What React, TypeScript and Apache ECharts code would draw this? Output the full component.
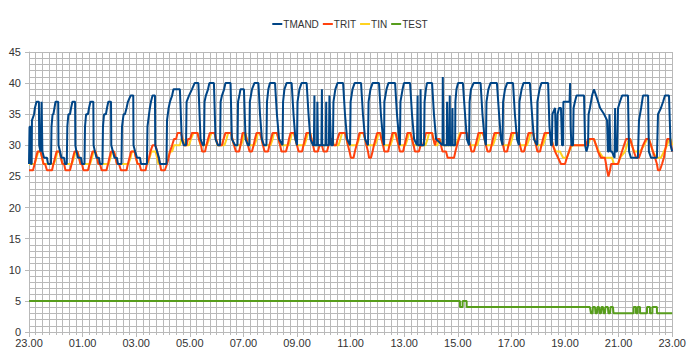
import React, { useEffect, useRef } from "react";
import * as echarts from "echarts";

// time in hours after 23:00, value in °C
const seriesNames = ["TMAND", "TRIT", "TIN", "TEST"];
const seriesColors = ["#004586", "#ff420e", "#ffd320", "#579d1c"];

const tmand: number[][] = [
  [0.00,27],[0.02,33],[0.06,33],[0.07,27],[0.10,27],[0.11,34],[0.19,35],[0.22,36],[0.28,37],[0.37,37],[0.38,30],[0.43,29],[0.47,37],[0.49,37],[0.50,29],[0.56,28],[0.67,28],[0.71,27],[0.82,27],
  [0.84,33],[0.88,35],[0.91,35],[0.95,36],[0.99,37],[1.09,37],[1.10,30],[1.16,29],[1.21,28],[1.31,28],[1.34,27],[1.41,27],
  [1.43,33],[1.47,35],[1.53,35],[1.57,36],[1.62,37],[1.72,37],[1.73,30],[1.77,29],[1.83,28],[1.94,28],[1.98,27],[2.07,27],
  [2.09,33],[2.13,35],[2.20,35],[2.24,36],[2.29,37],[2.40,37],[2.41,30],[2.46,29],[2.52,28],[2.61,28],[2.65,27],[2.74,27],
  [2.76,33],[2.80,35],[2.87,35],[2.91,36],[2.96,37],[3.06,37],[3.07,30],[3.13,29],[3.19,28],[3.28,28],[3.32,27],[3.45,27],
  [3.47,33],[3.53,35],[3.58,35],[3.64,36],[3.69,37],[3.79,38],[3.89,38],[3.90,30],[3.96,29],[4.03,28],[4.14,28],[4.18,27],[4.40,27],
  [4.42,33],[4.48,35],[4.51,36],[4.55,37],[4.61,38],[4.70,38],[4.71,30],[4.78,29],[4.85,28],[4.89,27],[5.13,27],
  [5.15,34],[5.21,36],[5.26,37],[5.34,38],[5.39,39],[5.63,39],[5.70,31],[5.78,30],[5.86,30],
  [5.88,37],[5.97,38],[6.08,39],[6.18,40],[6.32,40],[6.40,31],[6.49,30],[6.53,30],
  [6.55,37],[6.60,38],[6.68,39],[6.73,40],[6.90,40],[6.96,31],[7.05,30],[7.13,30],
  [7.15,37],[7.20,38],[7.28,39],[7.33,40],[7.52,40],[7.57,31],[7.69,30],[7.78,30],
  [7.80,37],[7.85,38],[7.89,39],[8.02,39],[8.08,31],[8.17,30],[8.22,30],
  [8.24,37],[8.28,38],[8.32,39],[8.41,40],[8.56,40],[8.62,35],[8.69,31],[8.77,30],[8.86,30],
  [8.88,37],[8.93,39],[8.99,40],[9.18,40],[9.25,35],[9.33,31],[9.46,30],
  [9.48,37],[9.53,39],[9.61,40],[9.80,40],[9.87,35],[9.94,31],[10.00,30],
  [10.02,37],[10.09,39],[10.17,40],[10.36,40],[10.43,35],[10.50,31],[10.60,30],
  [10.63,30],[10.65,38],[10.66,30],[10.75,30],[10.76,37],[10.78,30],[10.91,30],[10.93,39],[10.94,30],[11.07,30],[11.09,37],[11.10,30],[11.19,30],[11.21,38],[11.23,35],[11.27,30],
  [11.34,30],[11.36,37],[11.43,39],[11.51,40],[11.72,40],[11.79,35],[11.87,31],[11.98,30],
  [12.00,37],[12.07,39],[12.15,40],[12.39,40],[12.46,35],[12.54,31],[12.65,30],
  [12.67,37],[12.74,39],[12.82,40],[13.06,40],[13.13,35],[13.21,31],[13.25,30],
  [13.26,37],[13.34,39],[13.41,40],[13.66,40],[13.73,35],[13.81,31],[13.84,30],
  [13.86,37],[13.94,39],[13.99,40],[14.22,40],[14.29,35],[14.37,31],[14.48,30],
  [14.50,38],[14.51,30],[14.60,30],[14.61,39],[14.63,30],[14.74,30],
  [14.76,37],[14.81,39],[14.85,40],[15.04,40],[15.11,35],[15.19,31],[15.43,30],
  [15.44,41],[15.47,30],[15.59,30],[15.60,37],[15.62,30],[15.68,30],[15.70,38],[15.71,30],[15.78,30],[15.80,36],[15.81,30],[15.90,30],
  [15.91,37],[15.95,39],[16.01,40],[16.19,40],[16.27,35],[16.34,31],[16.42,30],
  [16.44,37],[16.49,39],[16.59,40],[16.85,40],[16.92,35],[17.00,31],[17.05,30],
  [17.07,37],[17.14,39],[17.22,40],[17.46,40],[17.54,35],[17.61,31],[17.67,30],
  [17.69,37],[17.76,39],[17.84,40],[18.06,40],[18.13,35],[18.21,31],[18.28,30],
  [18.30,37],[18.38,39],[18.45,40],[18.69,40],[18.77,35],[18.84,31],[18.96,30],
  [18.97,37],[19.05,39],[19.12,40],[19.37,40],
  [19.42,33],[19.48,30],[19.51,30],[19.53,35],[19.63,36],[19.66,30],[19.70,30],[19.72,35],[19.78,36],[19.85,36],[19.89,30],[19.93,30],[19.94,37],[20.17,37],[20.19,40],[20.21,33],[20.24,30],[20.30,30],[20.32,36],[20.37,37],[20.43,38],[20.71,38],[20.75,30],[20.80,29],[20.86,30],
  [20.88,35],[20.93,36],[21.01,38],[21.08,39],[21.16,38],[21.31,36],[21.46,35],[21.57,34],[21.60,29],[21.64,29],[21.66,35],[21.70,29],[21.75,29],[21.85,28],[21.87,36],[21.88,29],[21.94,29],
  [21.98,36],[22.05,37],[22.13,38],[22.35,38],[22.39,29],[22.46,28],[22.72,28],
  [22.76,34],[22.84,36],[22.91,38],[23.10,38],[23.13,29],[23.21,28],[23.43,28],
  [23.47,35],[23.58,36],[23.66,37],[23.73,38],[23.88,38],[23.94,30],[24.00,29]
];

const trit: number[][] = [
  [0.00,26],[0.15,26],[0.21,27],[0.26,28],[0.32,29],[0.43,29],[0.49,28],[0.54,27],[0.60,27],[0.67,26],
  [0.86,26],[0.91,27],[0.97,28],[1.03,29],[1.14,29],[1.19,28],[1.25,27],[1.31,27],[1.36,26],
  [1.53,26],[1.59,27],[1.64,28],[1.70,29],[1.81,29],[1.87,28],[1.92,27],[1.98,27],[2.03,26],
  [2.20,26],[2.26,27],[2.31,28],[2.37,29],[2.48,29],[2.54,28],[2.59,27],[2.65,27],[2.71,26],
  [2.89,26],[2.95,27],[3.00,28],[3.06,29],[3.17,29],[3.23,28],[3.28,27],[3.36,27],[3.43,26],
  [3.64,26],[3.69,27],[3.75,28],[3.81,29],[3.94,29],[3.99,28],[4.05,27],[4.12,27],[4.18,26],
  [4.35,26],[4.40,27],[4.48,28],[4.53,29],[4.61,30],[4.72,30],[4.78,29],[4.83,28],[4.89,27],[4.93,26],
  [5.07,26],[5.15,27],[5.21,28],[5.26,29],[5.34,30],[5.41,31],[5.49,31],[5.54,32],[5.67,32],[5.73,31],[5.78,30],
  [5.88,30],[5.93,31],[6.01,31],[6.08,32],[6.29,32],[6.34,31],[6.42,30],[6.46,29],
  [6.57,29],[6.62,30],[6.68,31],[6.75,32],[6.92,32],[6.98,31],[7.05,30],
  [7.20,30],[7.26,31],[7.33,32],[7.54,32],[7.59,31],[7.65,30],[7.72,29],
  [7.84,29],[7.89,30],[7.93,31],[7.97,32],[8.06,32],[8.12,31],[8.17,30],[8.23,29],
  [8.32,29],[8.38,30],[8.43,31],[8.49,32],[8.62,32],[8.68,31],[8.73,30],[8.79,29],
  [8.92,29],[8.97,30],[9.03,31],[9.09,32],[9.25,32],[9.31,31],[9.37,30],[9.42,29],
  [9.59,29],[9.65,30],[9.70,31],[9.76,32],[9.89,32],[9.94,31],[10.00,30],[10.06,29],
  [10.19,29],[10.24,30],[10.30,31],[10.35,32],[10.49,32],[10.54,31],[10.60,30],[10.65,29],
  [10.78,29],[10.84,30],[10.93,30],[10.99,29],[11.12,29],[11.18,30],[11.23,31],[11.31,31],[11.36,30],
  [11.46,30],[11.51,31],[11.59,32],[11.79,32],[11.85,31],[11.90,30],[11.96,29],[12.01,28],
  [12.11,28],[12.16,29],[12.22,30],[12.28,31],[12.33,32],[12.48,32],[12.54,31],[12.59,30],[12.65,29],[12.69,28],
  [12.76,28],[12.82,29],[12.87,30],[12.93,31],[12.99,32],[13.10,32],[13.15,31],[13.21,30],[13.26,29],
  [13.40,29],[13.45,30],[13.51,31],[13.56,32],[13.68,32],[13.73,31],[13.79,30],[13.84,29],
  [13.96,29],[14.01,30],[14.07,31],[14.12,32],[14.24,32],[14.29,31],[14.35,30],[14.40,29],
  [14.55,29],[14.61,30],[14.70,30],[14.76,31],[14.81,32],[15.04,32],[15.09,31],[15.15,30],[15.21,31],[15.32,31],[15.37,30],[15.43,29],
  [15.56,29],[15.62,28],[15.86,28],[15.91,29],[15.97,30],[16.04,31],[16.12,32],[16.34,32],[16.40,31],[16.46,30],[16.51,29],
  [16.60,29],[16.66,30],[16.72,31],[16.77,32],[16.94,32],[17.00,31],[17.05,30],[17.11,29],
  [17.20,29],[17.26,30],[17.31,31],[17.37,32],[17.57,32],[17.63,31],[17.69,30],[17.74,29],
  [17.84,29],[17.89,30],[17.95,31],[18.00,32],[18.21,32],[18.26,31],[18.32,30],[18.38,29],
  [18.47,29],[18.53,30],[18.58,31],[18.64,32],[18.81,32],[18.86,31],[18.92,30],[18.97,29],
  [19.07,29],[19.12,30],[19.18,31],[19.24,32],[19.44,32],[19.50,31],[19.55,30],[19.63,29],[19.74,28],[19.85,27],
  [20.00,27],[20.07,28],[20.15,29],[20.22,30],[20.78,30],[20.86,31],[21.08,31],[21.16,30],[21.23,29],[21.34,28],
  [21.49,28],[21.57,26],[21.62,25],[21.68,26],[21.72,27],[21.98,27],[22.05,28],[22.20,30],[22.28,31],[22.43,31],[22.50,30],[22.57,29],[22.65,28],
  [22.76,28],[22.84,29],[22.91,30],[23.02,31],[23.13,31],[23.21,30],[23.28,29],[23.36,28],[23.43,27],[23.47,26],
  [23.54,26],[23.62,27],[23.69,28],[23.77,30],[23.81,31],[23.92,31],[24.00,29]
];

const tin: number[][] = [
  [0.00,27],[0.21,27],[0.28,28],[0.35,29],[0.43,29],[0.49,28],[0.54,27],
  [0.93,27],[1.01,28],[1.06,29],[1.14,29],[1.19,28],[1.25,27],
  [1.60,27],[1.68,28],[1.74,29],[1.81,29],[1.87,28],[1.92,27],
  [2.28,27],[2.35,28],[2.41,29],[2.48,29],[2.54,28],[2.59,27],
  [2.97,27],[3.04,28],[3.10,29],[3.17,29],[3.23,28],[3.28,27],
  [3.71,27],[3.79,28],[3.84,29],[3.94,29],[3.99,28],[4.05,27],
  [4.42,27],[4.50,28],[4.57,29],[4.72,29],[4.78,28],[4.83,27],
  [5.11,27],[5.19,28],[5.26,29],[5.34,29],[5.41,30],[5.63,30],[5.69,31],[5.75,31],[5.80,30],
  [5.97,30],[6.04,31],[6.14,32],[6.29,32],[6.34,31],[6.40,30],
  [6.64,30],[6.72,31],[6.81,32],[6.92,32],[6.98,31],[7.03,30],
  [7.29,30],[7.37,31],[7.43,32],[7.54,32],[7.59,31],[7.65,30],
  [7.91,30],[7.99,31],[8.04,32],[8.08,32],[8.13,31],[8.19,30],
  [8.41,30],[8.49,31],[8.54,32],[8.62,32],[8.68,31],[8.73,30],
  [9.01,30],[9.09,31],[9.14,32],[9.25,32],[9.31,31],[9.37,30],
  [9.68,30],[9.76,31],[9.81,32],[9.89,32],[9.94,31],[10.00,30],
  [10.28,30],[10.35,31],[10.41,32],[10.49,32],[10.54,31],[10.60,30],
  [11.19,30],[11.27,31],[11.32,31],[11.38,30],
  [11.55,30],[11.62,31],[11.68,32],[11.79,32],[11.85,31],[11.90,30],
  [12.24,30],[12.31,31],[12.37,32],[12.48,32],[12.54,31],[12.59,30],
  [12.91,30],[12.99,31],[13.04,32],[13.10,32],[13.15,31],[13.21,30],
  [13.49,30],[13.56,31],[13.62,32],[13.68,32],[13.73,31],[13.79,30],
  [14.05,30],[14.12,31],[14.18,32],[14.24,32],[14.29,31],[14.35,30],
  [14.79,30],[14.87,31],[14.93,32],[15.04,32],[15.09,31],[15.15,30],[15.24,30],[15.30,31],[15.34,31],[15.39,30],
  [15.93,30],[16.01,31],[16.08,32],[16.34,32],[16.40,31],[16.46,30],
  [16.72,30],[16.79,31],[16.85,32],[16.94,32],[17.00,31],[17.05,30],
  [17.31,30],[17.39,31],[17.44,32],[17.57,32],[17.63,31],[17.69,30],
  [17.95,30],[18.02,31],[18.08,32],[18.21,32],[18.26,31],[18.32,30],
  [18.58,30],[18.66,31],[18.71,32],[18.81,32],[18.86,31],[18.92,30],
  [19.18,30],[19.25,31],[19.31,32],[19.44,32],[19.50,31],[19.55,30],[19.66,29],[19.81,29],[19.93,28],
  [20.07,28],[20.15,29],[20.26,30],[20.86,30],[20.93,31],[21.08,31],[21.16,30],[21.27,29],[21.42,28],
  [21.75,28],[21.83,27],[21.98,27],[22.05,28],[22.24,29],[22.31,30],[22.39,31],[22.43,31],[22.50,30],[22.57,29],
  [22.80,29],[22.95,30],[23.06,31],[23.13,31],[23.21,30],[23.28,29],[23.40,28],
  [23.58,28],[23.69,29],[23.81,30],[23.88,31],[23.94,31],[24.00,30]
];

const test: number[][] = [
  [0,5],[16.08,5],[16.08,4],[16.18,4],[16.18,5],[16.33,5],[16.33,4],[20.93,4],
  [20.97,3],[21.03,3],[21.04,4],[21.12,4],[21.14,3],[21.19,3],[21.21,4],[21.27,4],[21.29,3],[21.34,3],
  [21.36,4],[21.42,4],[21.44,3],[21.49,3],[21.51,4],[21.60,4],[21.62,3],[21.68,3],[21.70,4],[21.79,4],[21.81,3],
  [22.56,3],[22.56,4],[22.65,4],[22.65,3],[22.71,3],[22.71,4],[22.80,4],[22.80,3],
  [23.06,3],[23.06,4],[23.17,4],[23.17,3],[23.26,3],[23.26,4],[23.43,4],[23.43,3],[24,3]
];

const seriesData = [tmand, trit, tin, test];
const seriesZ = [5, 4, 3, 4];

const xTickHours = [23, 1, 3, 5, 7, 9, 11, 13, 15, 17, 19, 21, 23];

export default function App() {
  const ref = useRef<HTMLDivElement>(null);
  useEffect(() => {
    if (!ref.current) return;
    const chart = echarts.init(ref.current, null, { renderer: "svg" });
    const font = "'Liberation Sans', Arial, sans-serif";
    const gridColor = "#b9b9b9";
    chart.setOption({
      animation: false,
      backgroundColor: "#ffffff",
      textStyle: { fontFamily: font },
      legend: {
        top: 14,
        left: "center",
        data: seriesNames,
        icon: "rect",
        itemWidth: 10,
        itemHeight: 2,
        itemGap: 4,
        textStyle: { fontSize: 10, color: "#333333", fontFamily: font, padding: [0, 0, 0, -4] },
      },
      grid: { left: 29, right: 27.8, top: 52, bottom: 30, containLabel: false },
      xAxis: {
        type: "value",
        min: 0,
        max: 24,
        interval: 2,
        axisLine: { show: true, lineStyle: { color: gridColor, width: 1 } },
        axisTick: { show: true, length: 5, lineStyle: { color: gridColor } },
        minorTick: { show: true, splitNumber: 8, length: 3, lineStyle: { color: gridColor } },
        splitLine: { show: true, lineStyle: { color: gridColor, width: 1 } },
        minorSplitLine: { show: true, lineStyle: { color: gridColor, width: 1 } },
        axisLabel: {
          color: "#333333",
          fontSize: 11,
          margin: 5,
          fontFamily: font,
          formatter: (v: number) => {
            const h = xTickHours[Math.round(v / 2)];
            return (h < 10 ? "0" + h : "" + h) + ".00";
          },
        },
      },
      yAxis: {
        type: "value",
        min: 0,
        max: 45,
        interval: 5,
        axisLine: { show: true, lineStyle: { color: gridColor, width: 1 } },
        axisTick: { show: true, length: 4, lineStyle: { color: gridColor } },
        minorTick: { show: false, splitNumber: 5 },
        splitLine: { show: true, lineStyle: { color: gridColor, width: 1 } },
        minorSplitLine: { show: true, lineStyle: { color: gridColor, width: 1 } },
        axisLabel: { color: "#333333", fontSize: 11, margin: 8, fontFamily: font },
      },
      series: seriesNames.map((name, i) => ({
        name,
        type: "line",
        data: seriesData[i],
        showSymbol: false,
        symbol: "none",
        z: seriesZ[i],
        lineStyle: { color: seriesColors[i], width: 2 },
        itemStyle: { color: seriesColors[i] },
      })),
    });
    return () => chart.dispose();
  }, []);
  return (
    <div
      ref={ref}
      style={{ position: "absolute", left: 0, top: 0, width: 700, height: 362 }}
    />
  );
}
